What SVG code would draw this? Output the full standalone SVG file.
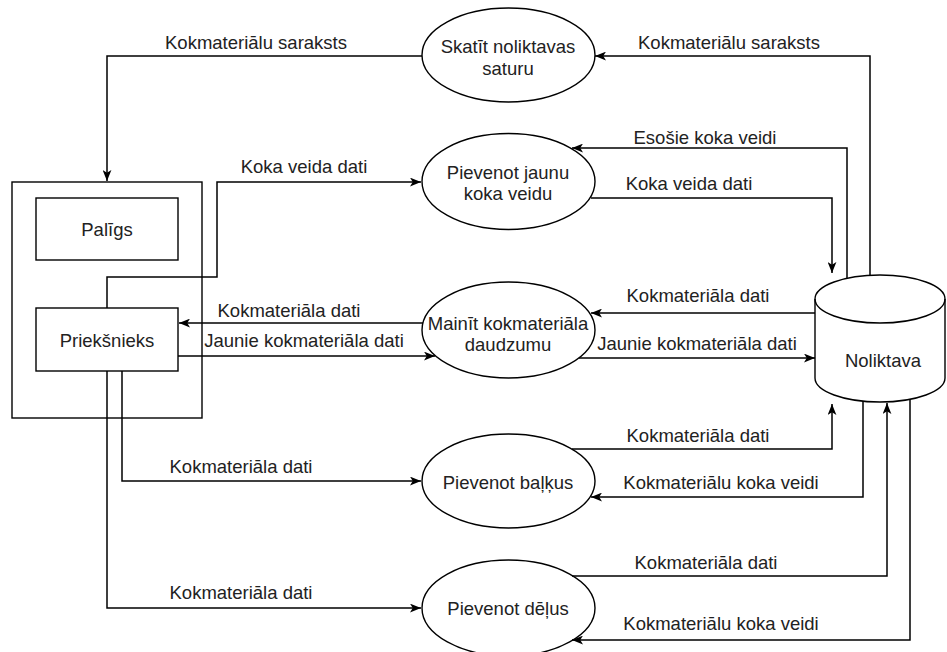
<svg xmlns="http://www.w3.org/2000/svg" width="947" height="652" viewBox="0 0 947 652">
<style>
text{font-family:"Liberation Sans",Arial,sans-serif;font-size:18.5px;fill:#222;text-anchor:middle;dominant-baseline:central}
.n{fill:#fff;stroke:#000;stroke-width:1.4}
.c path{fill:none;stroke:#000;stroke-width:1.5;marker-end:url(#a)}
.c path.p{marker-end:none}
</style>
<defs>
<marker id="a" viewBox="0 0 10 8" refX="10" refY="4" markerWidth="11" markerHeight="9" markerUnits="userSpaceOnUse" orient="auto">
<path d="M0,0 L10,4 L0,8 L2.5,4 Z" fill="#000"/>
</marker>
</defs>
<rect width="947" height="652" fill="#fff"/>
<g id="group-outer"><rect class="n" x="12" y="182" width="190" height="236"/></g>
<g id="node-paligs"><rect class="n" x="36" y="198" width="142" height="62"/><text x="107" y="229">Palīgs</text></g>
<g id="node-prieksnieks"><rect class="n" x="36" y="308" width="142" height="63"/><text x="107" y="340">Priekšnieks</text></g>
<g id="node-skatit"><ellipse class="n" cx="508.5" cy="55" rx="86.5" ry="47"/><text x="508" y="46">Skatīt noliktavas</text><text x="508" y="68">saturu</text></g>
<g id="node-jaunu"><ellipse class="n" cx="508.5" cy="181.5" rx="86.5" ry="48"/><text x="508" y="172">Pievenot jaunu</text><text x="508" y="193">koka veidu</text></g>
<g id="node-mainit"><ellipse class="n" cx="508.5" cy="330" rx="86.5" ry="48"/><text x="508" y="323">Mainīt kokmateriāla</text><text x="508" y="344">daudzumu</text></g>
<g id="node-balkus"><ellipse class="n" cx="508.5" cy="481" rx="86.5" ry="47"/><text x="508" y="482">Pievenot baļķus</text></g>
<g id="node-delus"><ellipse class="n" cx="508.5" cy="608" rx="86.5" ry="48"/><text x="508" y="608">Pievenot dēļus</text></g>
<g id="node-noliktava"><path class="n" d="M815,299 A65,24 0 0 1 945,299 V378 A65,24 0 0 1 815,378 Z"/><path fill="none" stroke="#000" stroke-width="1.4" d="M815,299 A65,24 0 0 0 945,299"/><text x="883" y="360">Noliktava</text></g>
<g id="connectors" class="c">
<path d="M422,56 H107 V181"/>
<path d="M870,275 V56 H595"/>
<path d="M107,308 V277 H217 V182 H421"/>
<path d="M847,278 V148 H572"/>
<path d="M591,198 H832 V273"/>
<path d="M815,313 H591"/>
<path d="M423,323 H179"/>
<path d="M178,356 H435"/>
<path d="M579,358 H815"/>
<path d="M122,371 V481 H421"/>
<path d="M107,371 V608 H421"/>
<path d="M572,449 H832 V404"/>
<path d="M863,401 V497 H591"/>
<path d="M572,576 H887 V403"/>
<path d="M910,399 V640 H572"/>
</g>
<g id="labels">
<text x="256" y="42">Kokmateriālu saraksts</text>
<text x="729" y="42">Kokmateriālu saraksts</text>
<text x="705" y="137">Esošie koka veidi</text>
<text x="689" y="183">Koka veida dati</text>
<text x="304" y="166">Koka veida dati</text>
<text x="289" y="310">Kokmateriāla dati</text>
<text x="304" y="340">Jaunie kokmateriāla dati</text>
<text x="698" y="295">Kokmateriāla dati</text>
<text x="697" y="343">Jaunie kokmateriāla dati</text>
<text x="698" y="435">Kokmateriāla dati</text>
<text x="721" y="482">Kokmateriālu koka veidi</text>
<text x="706" y="562">Kokmateriāla dati</text>
<text x="721" y="623">Kokmateriālu koka veidi</text>
<text x="241" y="466">Kokmateriāla dati</text>
<text x="241" y="592">Kokmateriāla dati</text>
</g>
</svg>
